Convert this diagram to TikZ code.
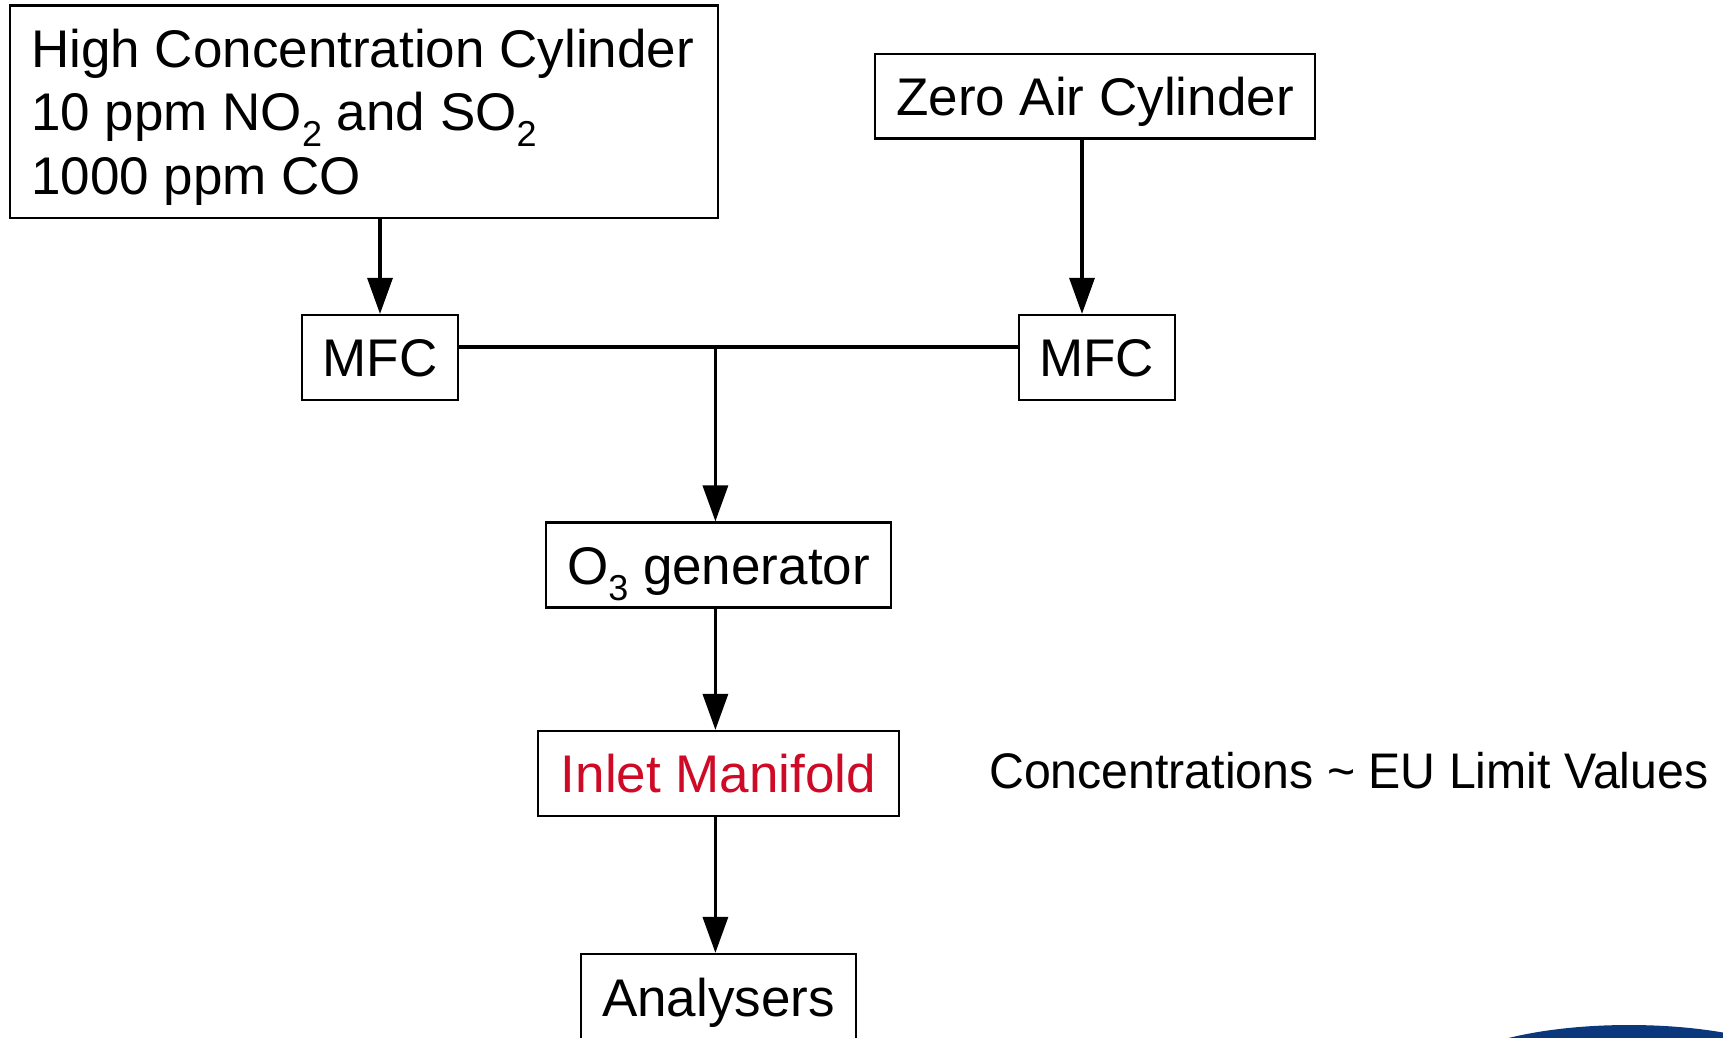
\documentclass[tikz,border=0pt]{standalone}
\usepackage{fontspec}
\setmainfont{Liberation Sans}
\newfontfamily\condfont{Liberation Sans}[FakeStretch=0.965]
\usetikzlibrary{arrows.meta}
\definecolor{manifoldred}{RGB}{206,10,38}
\definecolor{logoblue}{RGB}{11,56,125}
\newcommand{\lowtext}[1]{\raisebox{-16pt}{\fontsize{36}{36}\selectfont #1}}
\begin{document}
\begin{tikzpicture}[x=1pt,y=-1pt,
  box/.style={draw=black, line width=2.2pt, inner sep=0pt, font=\fontsize{53}{63}\selectfont, text height=38pt, text depth=0pt},
  flow/.style={line width=3.3pt},
  flowarrow/.style={flow, -{Triangle[width=25pt,length=36pt]}},
  boxtext/.style={inner sep=0pt, anchor=base west, font=\fontsize{53}{63}\selectfont}
]
\useasboundingbox (0,0) rectangle (1723,1038);
\begin{scope}
  \clip (0,0) rectangle (1723,1038);
  \fill[logoblue] (1629,1085) ellipse [x radius=194, y radius=60];
\end{scope}

\node[box, minimum width=707.7pt, minimum height=212.1pt] (hc) at (363.75,111.55) {};
\node[boxtext] (hc1) at (31,68) {High Concentration Cylinder};
\node[boxtext] (hc2) at (31,131) {10 ppm NO\lowtext{2} and SO\lowtext{2}};
\node[boxtext] (hc3) at (31,194) {1000 ppm CO};

\node[box, minimum width=440.7pt, minimum height=84.7pt] (za) at (1095,96.15) {Zero Air Cylinder};
\node[box, minimum width=156pt, minimum height=85pt] (mfcl) at (380,357.5) {MFC};
\node[box, minimum width=156pt, minimum height=85pt] (mfcr) at (1096.7,357.5) {MFC};
\node[box, minimum width=345pt, minimum height=85pt] (o3) at (718.5,565) {O\lowtext{3} generator};
\node[box, minimum width=361pt, minimum height=85pt, text=manifoldred] (inlet) at (718.5,773.5) {Inlet Manifold};
\node[box, minimum width=275.3pt, minimum height=86pt] (anal) at (718.35,997) {Analysers};
\node[inner sep=0pt, anchor=base west, font=\condfont\fontsize{50}{60}\selectfont] (conc) at (989,788.5) {Concentrations \textasciitilde{} EU Limit Values};

\coordinate (j) at (715.4,347);
\coordinate (zax) at (1082,0);
\draw[flowarrow] (hc.south -| mfcl.north) -- (mfcl.north);
\draw[flowarrow] (za.south -| zax) -- (mfcr.north -| zax);
\draw[flow] (mfcl.east |- j) -- (mfcr.west |- j);
\draw[flowarrow] (j) -- (o3.north -| j);
\draw[flowarrow] (o3.south -| j) -- (inlet.north -| j);
\draw[flowarrow] (inlet.south -| j) -- (anal.north -| j);
\end{tikzpicture}
\end{document}
